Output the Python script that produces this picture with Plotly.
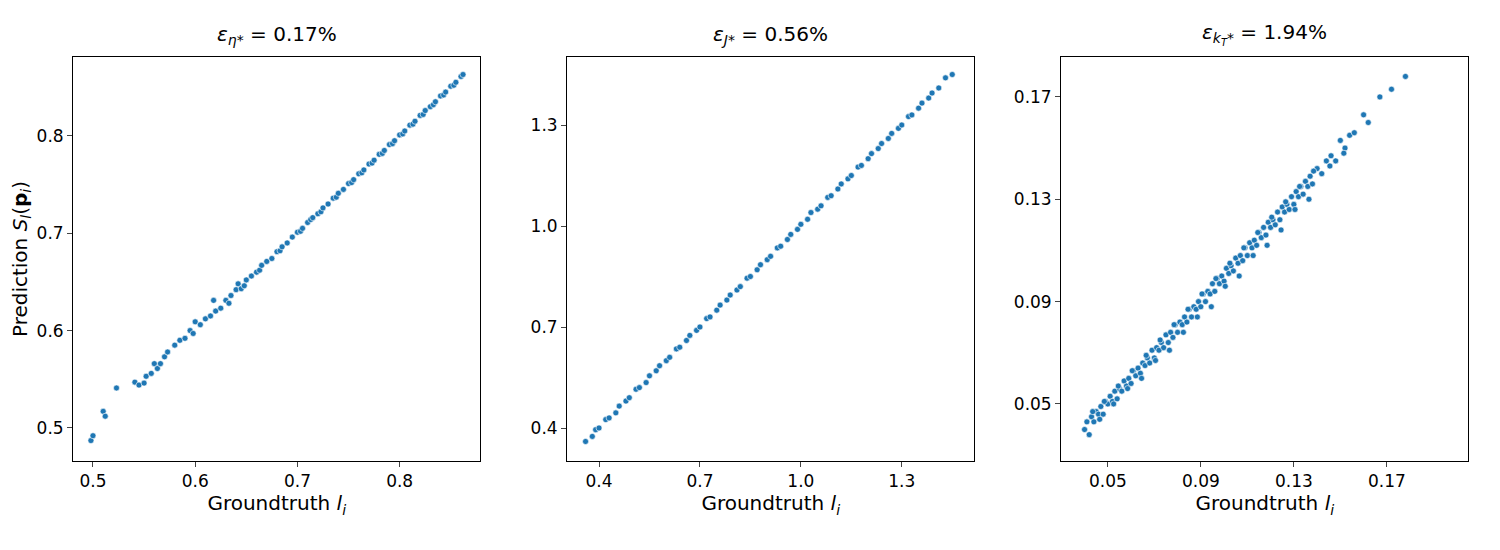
import plotly.graph_objects as go

# panel 1: eta*
gt_eta = [0.498, 0.500, 0.510, 0.512, 0.523, 0.541, 0.545, 0.550, 0.552, 0.557, 0.560, 0.563, 0.566,
          0.570, 0.573, 0.580, 0.585, 0.590, 0.595, 0.598, 0.600, 0.605, 0.610, 0.615, 0.618, 0.620,
          0.625, 0.630, 0.633, 0.635, 0.640, 0.642, 0.645, 0.648, 0.650, 0.655, 0.660, 0.663, 0.665,
          0.670, 0.675, 0.680, 0.683, 0.685, 0.690, 0.695, 0.700, 0.703, 0.705, 0.710, 0.713, 0.715,
          0.720, 0.723, 0.725, 0.730, 0.735, 0.738, 0.740, 0.745, 0.750, 0.753, 0.755, 0.760, 0.763,
          0.765, 0.770, 0.773, 0.775, 0.780, 0.783, 0.785, 0.790, 0.793, 0.795, 0.800, 0.803, 0.805,
          0.810, 0.813, 0.815, 0.820, 0.823, 0.825, 0.830, 0.833, 0.835, 0.840, 0.843, 0.845, 0.850,
          0.853, 0.855, 0.860, 0.862]
pr_eta = [0.487, 0.492, 0.517, 0.512, 0.541, 0.547, 0.544, 0.546, 0.553, 0.556, 0.566, 0.561, 0.566,
          0.573, 0.578, 0.585, 0.590, 0.592, 0.600, 0.597, 0.609, 0.606, 0.612, 0.615, 0.631, 0.620,
          0.623, 0.631, 0.628, 0.636, 0.642, 0.648, 0.643, 0.646, 0.652, 0.656, 0.660, 0.662, 0.667,
          0.671, 0.674, 0.681, 0.682, 0.686, 0.690, 0.696, 0.701, 0.702, 0.705, 0.711, 0.714, 0.716,
          0.720, 0.722, 0.726, 0.730, 0.736, 0.737, 0.741, 0.745, 0.751, 0.752, 0.755, 0.761, 0.762,
          0.765, 0.771, 0.772, 0.775, 0.781, 0.782, 0.785, 0.791, 0.792, 0.795, 0.801, 0.802, 0.805,
          0.811, 0.812, 0.815, 0.821, 0.822, 0.826, 0.830, 0.832, 0.835, 0.841, 0.842, 0.845, 0.851,
          0.852, 0.855, 0.861, 0.863]

# panel 2: J*
gt_j = [0.36, 0.38, 0.39, 0.40, 0.42, 0.43, 0.45, 0.46, 0.48, 0.49, 0.51, 0.52, 0.54, 0.55, 0.57,
        0.58, 0.60, 0.61, 0.63, 0.64, 0.66, 0.67, 0.69, 0.70, 0.72, 0.73, 0.75, 0.76, 0.78, 0.79,
        0.81, 0.82, 0.84, 0.85, 0.87, 0.88, 0.90, 0.91, 0.93, 0.94, 0.96, 0.97, 0.99, 1.00, 1.02,
        1.03, 1.05, 1.06, 1.08, 1.09, 1.11, 1.12, 1.14, 1.15, 1.17, 1.18, 1.20, 1.21, 1.23, 1.24,
        1.26, 1.27, 1.29, 1.30, 1.32, 1.33, 1.35, 1.36, 1.38, 1.39, 1.41, 1.43, 1.45]
pr_j = [0.36, 0.375, 0.395, 0.40, 0.425, 0.43, 0.445, 0.465, 0.48, 0.49, 0.515, 0.52, 0.535, 0.555, 0.57,
        0.585, 0.60, 0.61, 0.635, 0.64, 0.66, 0.675, 0.69, 0.70, 0.725, 0.73, 0.75, 0.765, 0.78, 0.795,
        0.81, 0.82, 0.845, 0.85, 0.87, 0.885, 0.90, 0.91, 0.935, 0.94, 0.96, 0.975, 0.99, 1.005, 1.02,
        1.04, 1.05, 1.06, 1.085, 1.09, 1.11, 1.125, 1.14, 1.15, 1.175, 1.18, 1.20, 1.215, 1.23, 1.245,
        1.26, 1.275, 1.29, 1.30, 1.325, 1.33, 1.35, 1.365, 1.38, 1.395, 1.41, 1.44, 1.45]

# panel 3: k_T*
gt_k = [0.040, 0.041, 0.042, 0.043, 0.044, 0.045, 0.046, 0.047, 0.048, 0.049, 0.050, 0.051, 0.052,
        0.053, 0.054, 0.055, 0.056, 0.057, 0.058, 0.059, 0.060, 0.061, 0.062, 0.063, 0.064, 0.065,
        0.066, 0.067, 0.068, 0.069, 0.070, 0.071, 0.072, 0.073, 0.074, 0.075, 0.076, 0.077, 0.078,
        0.079, 0.080, 0.081, 0.082, 0.083, 0.084, 0.085, 0.086, 0.087, 0.088, 0.089, 0.090, 0.091,
        0.092, 0.093, 0.094, 0.095, 0.096, 0.097, 0.098, 0.099, 0.100, 0.101, 0.102, 0.103, 0.104,
        0.105, 0.106, 0.107, 0.108, 0.109, 0.110, 0.111, 0.112, 0.113, 0.114, 0.115, 0.116, 0.117,
        0.118, 0.119, 0.120, 0.121, 0.122, 0.123, 0.124, 0.125, 0.126, 0.127, 0.128, 0.129, 0.130,
        0.131, 0.132, 0.133, 0.134, 0.135, 0.136, 0.137, 0.138, 0.140, 0.142, 0.144, 0.146, 0.148,
        0.150, 0.152, 0.154, 0.156, 0.160, 0.162, 0.167, 0.172, 0.178,
        0.0435, 0.0465, 0.0485, 0.0525, 0.0545, 0.0585, 0.0605, 0.0645, 0.0665, 0.0705, 0.0725,
        0.0765, 0.0785, 0.0825, 0.0845, 0.0885, 0.0905, 0.0945, 0.0965, 0.1005, 0.1025, 0.1065,
        0.1085, 0.1125, 0.1145, 0.1185, 0.1205, 0.1245, 0.1265, 0.1305, 0.1325, 0.1365, 0.1385,
        0.1455, 0.1515]
pr_k = [0.040, 0.043, 0.038, 0.045, 0.043, 0.047, 0.046, 0.049, 0.046, 0.051, 0.050, 0.053, 0.051,
        0.055, 0.052, 0.056, 0.055, 0.059, 0.057, 0.060, 0.058, 0.063, 0.061, 0.064, 0.062, 0.066,
        0.065, 0.068, 0.066, 0.071, 0.068, 0.072, 0.071, 0.074, 0.072, 0.077, 0.074, 0.078, 0.076,
        0.081, 0.078, 0.082, 0.081, 0.084, 0.082, 0.087, 0.084, 0.088, 0.087, 0.090, 0.088, 0.093,
        0.090, 0.094, 0.093, 0.097, 0.094, 0.099, 0.097, 0.100, 0.098, 0.103, 0.101, 0.104, 0.102,
        0.107, 0.105, 0.108, 0.106, 0.111, 0.108, 0.113, 0.111, 0.114, 0.112, 0.117, 0.115, 0.119,
        0.116, 0.121, 0.119, 0.122, 0.120, 0.125, 0.122, 0.127, 0.125, 0.128, 0.126, 0.131, 0.128,
        0.133, 0.131, 0.135, 0.132, 0.137, 0.135, 0.139, 0.136, 0.142, 0.140, 0.145, 0.147, 0.145,
        0.153, 0.150, 0.155, 0.156, 0.163, 0.160, 0.170, 0.173, 0.178,
        0.047, 0.044, 0.051, 0.050, 0.057, 0.056, 0.063, 0.060, 0.069, 0.067, 0.075, 0.071,
        0.081, 0.078, 0.087, 0.084, 0.093, 0.088, 0.099, 0.096, 0.105, 0.100, 0.111, 0.108,
        0.117, 0.112, 0.123, 0.118, 0.129, 0.126, 0.135, 0.130, 0.141, 0.143, 0.148]

titles = ["<i>ε</i><sub><i>η</i>*</sub> = 0.17%",
          "<i>ε</i><sub><i>J</i>*</sub> = 0.56%",
          "<i>ε</i><sub><i>k</i><sub><i>T</i></sub>*</sub> = 1.94%"]
ticks = [[0.5, 0.6, 0.7, 0.8], [0.4, 0.7, 1.0, 1.3], [0.05, 0.09, 0.13, 0.17]]
tick_text = [["0.5", "0.6", "0.7", "0.8"], ["0.4", "0.7", "1.0", "1.3"],
             ["0.05", "0.09", "0.13", "0.17"]]
xranges = [[0.4805, 0.879], [0.305, 1.516], [0.0299, 0.2051]]
yranges = [[0.466, 0.881], [0.302, 1.502], [0.0277, 0.1856]]
# pixel edges of each panel in the reference, converted to paper fractions
px_edges = [[73, 482], [569, 978], [1065, 1474]]
domains = [[(a - 7.7) / 1506, (b - 7.7) / 1506] for a, b in px_edges]
ydom = [1 - (461 - 8) / 550, 1 - (57 - 8) / 550]

fig = go.Figure()
data = [(gt_eta, pr_eta), (gt_j, pr_j), (gt_k, pr_k)]
for i, (gx, py_) in enumerate(data):
    s = "" if i == 0 else str(i + 1)
    fig.add_trace(go.Scatter(x=gx, y=py_, mode="markers", xaxis="x" + s, yaxis="y" + s,
                             marker=dict(color="#1f77b4", size=6, line=dict(color="white", width=0.6)),
                             showlegend=False))
    axis_common = dict(showline=True, linecolor="black", linewidth=1, mirror=True, ticks="outside",
                       ticklen=5, showgrid=False, zeroline=False, tickfont=dict(size=17))
    fig.layout["xaxis" + s] = dict(axis_common, domain=domains[i], range=xranges[i], anchor="y" + s,
                                   tickvals=ticks[i], ticktext=tick_text[i],
                                   title=dict(text="Groundtruth <i>l</i><sub><i>i</i></sub>",
                                              font=dict(size=20), standoff=4))
    fig.layout["yaxis" + s] = dict(axis_common, domain=ydom, range=yranges[i], anchor="x" + s,
                                   tickvals=ticks[i], ticktext=tick_text[i])
    fig.add_annotation(text=titles[i], x=sum(domains[i]) / 2, y=ydom[1] + 0.012, xref="paper", yref="paper",
                       showarrow=False, font=dict(size=20), xanchor="center", yanchor="bottom")

fig.layout.yaxis.title = dict(text="Prediction <i>S</i><sub><i>l</i></sub>(<b>p</b><sub><i>i</i></sub>)",
                              font=dict(size=20), standoff=6)
fig.update_layout(width=1500, height=550, margin=dict(l=0, r=0, t=0, b=0),
                  paper_bgcolor="white", plot_bgcolor="white",
                  font=dict(family="DejaVu Sans", color="black"))
fig.write_html("out.html")
